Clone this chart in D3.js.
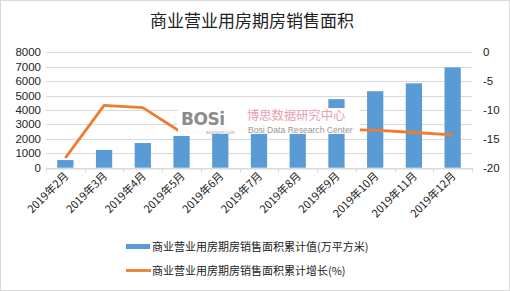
<!DOCTYPE html>
<html><head><meta charset="utf-8">
<script src="https://cdn.jsdelivr.net/npm/d3@7"></script>
<style>body{margin:0;background:#fff;}svg{display:block;font-family:"Microsoft YaHei","Noto Sans CJK SC",sans-serif;}</style>
</head><body>
<svg id="c" width="510" height="291"></svg>
<script>
const categories = ["2019年2月","2019年3月","2019年4月","2019年5月","2019年6月","2019年7月","2019年8月","2019年9月","2019年10月","2019年11月","2019年12月"];
const areaValues = [530, 1230, 1710, 2200, 2950, 3500, 4100, 4750, 5300, 5850, 6950];
const growthValues = [-18.3, -9.2, -9.6, -13.9, -13.6, -13.3, -13.4, -13.4, -13.5, -13.9, -14.3];
const leftTicks = [0,1000,2000,3000,4000,5000,6000,7000,8000];
const rightTicks = [0,-5,-10,-15,-20];
const title = "商业营业用房期房销售面积";
const legendLabels = ["商业营业用房期房销售面积累计值(万平方米)","商业营业用房期房销售面积累计增长(%)"];

const svg = d3.select("#c");
const W=510,H=291;
svg.append("rect").attr("x",0.5).attr("y",0.5).attr("width",W-1).attr("height",H-1).attr("fill","#fff").attr("stroke","#d9d9d9");

const L=46,R=472,T=52.3,B=167.7;
const x = d3.scaleBand().domain(categories).range([L,R]).paddingInner(0.58).paddingOuter(0.29);
const xb = d3.scaleBand().domain(categories).range([L,R]);
const yL = d3.scaleLinear().domain([0,8000]).range([B,T]);
const yR = d3.scaleLinear().domain([-20,0]).range([B,T]);

svg.append("text").attr("x",252).attr("y",27).attr("text-anchor","middle").attr("font-size",17).attr("fill","#222").text(title);

// gridlines
svg.append("g").selectAll("line").data(leftTicks).join("line")
 .attr("x1",L).attr("x2",R).attr("y1",d=>Math.round(yL(d))+0.5).attr("y2",d=>Math.round(yL(d))+0.5)
 .attr("stroke","#d9d9d9").attr("stroke-width",1);

// left axis labels
svg.append("g").selectAll("text").data(leftTicks).join("text")
 .attr("x",41).attr("y",d=>yL(d)+4).attr("text-anchor","end").attr("font-size",11.5).attr("fill","#222")
 .attr("font-family","Liberation Sans, Arial, sans-serif").text(d=>d);
// right axis labels
svg.append("g").selectAll("text").data(rightTicks).join("text")
 .attr("x",483).attr("y",d=>yR(d)+4).attr("text-anchor","start").attr("font-size",11.5).attr("fill","#222")
 .attr("font-family","Liberation Sans, Arial, sans-serif").text(d=>d);

// x axis line and ticks
const xAxis = d3.axisBottom(xb).tickSize(0).tickFormat("");
const gx = svg.append("g").attr("transform",`translate(0,${Math.round(B)+0.5})`).call(xAxis);
gx.select(".domain").attr("stroke","#d9d9d9");
svg.append("g").selectAll("line").data(categories.concat(["end"])).join("line")
 .attr("x1",(d,i)=>i<categories.length?Math.round(xb(d))+0.5:R+0.5)
 .attr("x2",(d,i)=>i<categories.length?Math.round(xb(d))+0.5:R+0.5)
 .attr("y1",B).attr("y2",B+5).attr("stroke","#d9d9d9");

// bars
svg.append("g").selectAll("rect").data(areaValues).join("rect")
 .attr("x",(d,i)=>x(categories[i])).attr("width",x.bandwidth())
 .attr("y",d=>yL(d)).attr("height",d=>B-yL(d)).attr("fill","#5B9BD5");

// line
const line = d3.line().x((d,i)=>xb(categories[i])+xb.bandwidth()/2).y(d=>yR(d));
svg.append("path").datum(growthValues).attr("d",line).attr("fill","none").attr("stroke","#ED7D31").attr("stroke-width",2.8).attr("stroke-linejoin","round");

// watermark
const wm = svg.append("g");
wm.append("rect").attr("x",178).attr("y",108).attr("width",182).attr("height",26).attr("fill","#fff").attr("opacity",0.97);
wm.append("text").attr("x",181).attr("y",125).attr("font-size",17).attr("font-weight","bold").attr("fill","#8c8c8c")
 .attr("font-family","DejaVu Sans, sans-serif").attr("letter-spacing",-0.5).text("BOSi");
wm.append("text").attr("x",206).attr("y",134).attr("font-size",4).attr("fill","#999").text("BOSIDATA.COM");
wm.append("text").attr("x",247).attr("y",120).attr("font-size",12.3).attr("fill","#e8a0b0").text("博思数据研究中心");
wm.append("text").attr("x",248).attr("y",133).attr("font-size",8.6).attr("fill","#999")
 .attr("font-family","Liberation Sans, Arial, sans-serif").text("Bosi Data Research Center");

// x labels
svg.append("g").selectAll("text").data(categories).join("text")
 .attr("transform",d=>`translate(${xb(d)+xb.bandwidth()/2+4},${B+9}) rotate(-45)`)
 .attr("text-anchor","end").attr("font-size",11).attr("fill","#222").text(d=>d);

// legend
const lg = svg.append("g");
lg.append("rect").attr("x",126).attr("y",244).attr("width",24).attr("height",5).attr("fill","#5B9BD5");
lg.append("text").attr("x",152).attr("y",251).attr("font-size",11).attr("fill","#222").text(legendLabels[0]);
lg.append("line").attr("x1",126).attr("x2",151).attr("y1",270.5).attr("y2",270.5).attr("stroke","#ED7D31").attr("stroke-width",2.8);
lg.append("text").attr("x",152).attr("y",275).attr("font-size",11).attr("fill","#222").text(legendLabels[1]);
</script>
</body></html>
